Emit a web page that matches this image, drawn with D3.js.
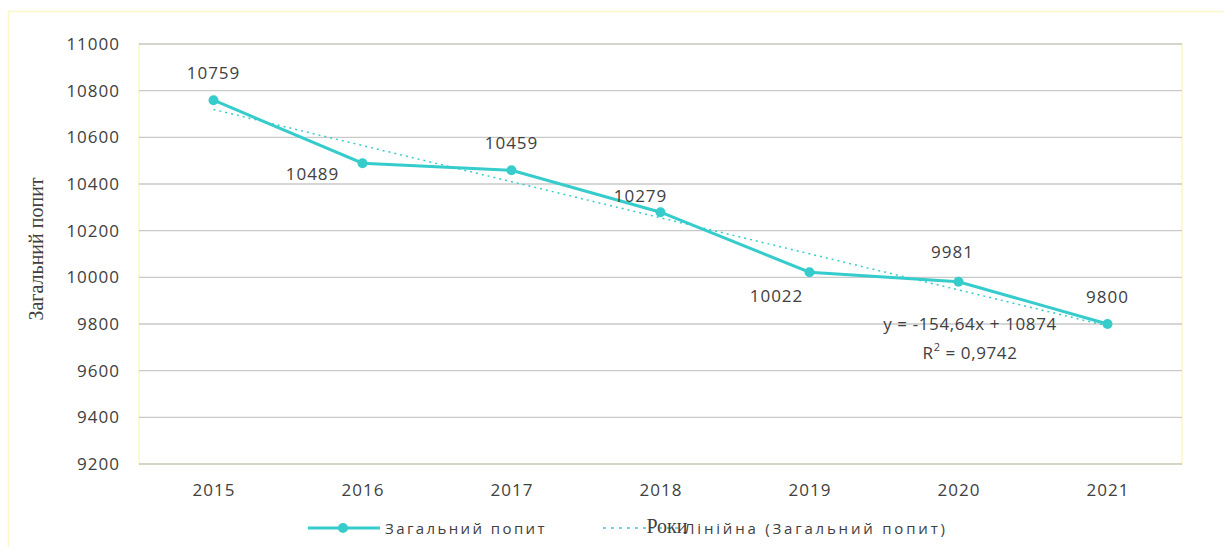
<!DOCTYPE html>
<html>
<head>
<meta charset="utf-8">
<script src="https://d3js.org/d3.v7.min.js"></script>
<style>
body{margin:0;background:#fff;}
text{font-family:"Open Sans",Calibri,sans-serif;fill:#404040;}
</style>
</head>
<body>
<script>
var width = 1224, height = 547;
var years = ["2015","2016","2017","2018","2019","2020","2021"];
var demand = [10759,10489,10459,10279,10022,9981,9800];
var yTicks = [9200,9400,9600,9800,10000,10200,10400,10600,10800,11000];
// label offsets: [dx, dy] relative to the point
var labelPos = [[0,-26],[-50,12],[0,-26],[-20,-15],[-33,25],[-6,-28],[0,-26]];
var slope = -154.64, intercept = 10874, r2 = "0,9742";
var lineColor = "#36CCCC";

var svg = d3.select("body").append("svg")
  .attr("width",width).attr("height",height);

// outer chart border
svg.append("rect").attr("x",8.5).attr("y",11.5).attr("width",1230).attr("height",560)
  .attr("fill","none").attr("stroke","#fbf8c8").attr("stroke-width",1.5);

var pLeft = 139, pRight = 1182, pTop = 44, pBottom = 464;
var x = d3.scalePoint().domain(years).range([pLeft,pRight]).padding(0.5);
var y = d3.scaleLinear().domain([9200,11000]).range([pBottom,pTop]);

// plot area border
svg.append("rect").attr("x",pLeft).attr("y",pTop).attr("width",pRight-pLeft).attr("height",pBottom-pTop)
  .attr("fill","none").attr("stroke","#fbf8c8").attr("stroke-width",1.5);

// gridlines
svg.append("g").selectAll("line").data(yTicks).join("line")
  .attr("x1",pLeft).attr("x2",pRight)
  .attr("y1",function(d){return y(d);}).attr("y2",function(d){return y(d);})
  .attr("stroke",function(d){return d==9200 ? "#c8c8c0" : "#c9c9c9";}).attr("stroke-width",1.3);

var yaxis = d3.axisLeft(y).tickValues(yTicks).tickFormat(d3.format("d")).tickSize(0).tickPadding(19);
var ga = svg.append("g").attr("transform","translate(" + pLeft + ",0)").call(yaxis);
ga.select(".domain").remove();
ga.selectAll("text").style("font-size","17px").style("letter-spacing","1px").attr("fill","#404040");

var xaxis = d3.axisBottom(x).tickSize(0).tickPadding(20);
var gx = svg.append("g").attr("transform","translate(0," + pBottom + ")").call(xaxis);
gx.select(".domain").remove();
gx.selectAll("text").style("font-size","17px").style("letter-spacing","1px").attr("fill","#404040");

// trend line
var trend = years.map(function(d,i){return [d, intercept + slope*(i+1)];});
svg.append("path").datum(trend)
  .attr("d", d3.line().x(function(d){return x(d[0]);}).y(function(d){return y(d[1]);}))
  .attr("fill","none").attr("stroke",lineColor).attr("stroke-width",1.5)
  .attr("stroke-dasharray","2,4");

// main series
svg.append("path").datum(demand)
  .attr("d", d3.line().x(function(d,i){return x(years[i]);}).y(function(d){return y(d);}))
  .attr("fill","none").attr("stroke",lineColor).attr("stroke-width",3);
svg.append("g").selectAll("circle").data(demand).join("circle")
  .attr("cx",function(d,i){return x(years[i]);})
  .attr("cy",function(d){return y(d);})
  .attr("r",5).attr("fill",lineColor);

// data labels
svg.append("g").selectAll("text").data(demand).join("text")
  .attr("x",function(d,i){return x(years[i]) + labelPos[i][0];})
  .attr("y",function(d,i){return y(d) + labelPos[i][1];})
  .attr("text-anchor","middle").attr("dominant-baseline","middle")
  .style("font-size","17px").style("letter-spacing","1px")
  .text(function(d){return d;});

// trendline equation
var eq = svg.append("g").attr("transform","translate(970,0)");
eq.append("text").attr("x",0).attr("y",330).attr("text-anchor","middle")
  .style("font-size","17px").style("letter-spacing","0.6px")
  .text("y = " + String(slope).replace(".",",") + "x + " + intercept);
var r = eq.append("text").attr("x",0).attr("y",359).attr("text-anchor","middle")
  .style("font-size","17px").style("letter-spacing","0.6px");
r.append("tspan").text("R");
r.append("tspan").attr("dy",-8).style("font-size","11px").text("2");
r.append("tspan").attr("dy",8).text(" = " + r2);

// axis titles
svg.append("text").attr("transform","translate(43,249) rotate(-90)")
  .attr("text-anchor","middle").style("font-family","'Liberation Serif','Times New Roman',serif")
  .style("font-size","20px").text("Загальний попит");

// legend
var lg = svg.append("g");
lg.append("line").attr("x1",308).attr("x2",380).attr("y1",528).attr("y2",528)
  .attr("stroke",lineColor).attr("stroke-width",3);
lg.append("circle").attr("cx",343).attr("cy",528).attr("r",5).attr("fill",lineColor);
lg.append("text").attr("x",385).attr("y",534).style("font-size","15px").style("letter-spacing","2.4px")
  .text("Загальний попит");
lg.append("line").attr("x1",603).attr("x2",682).attr("y1",528).attr("y2",528)
  .attr("stroke",lineColor).attr("stroke-width",1.5).attr("stroke-dasharray","3,5");
lg.append("text").attr("x",684).attr("y",534).style("font-size","15px").style("letter-spacing","2.8px")
  .text("Лінійна (Загальний попит)");

svg.append("text").attr("x",667).attr("y",533).attr("text-anchor","middle")
  .style("font-family","'Liberation Serif','Times New Roman',serif")
  .style("font-size","20px").text("Роки");
</script>
</body>
</html>
